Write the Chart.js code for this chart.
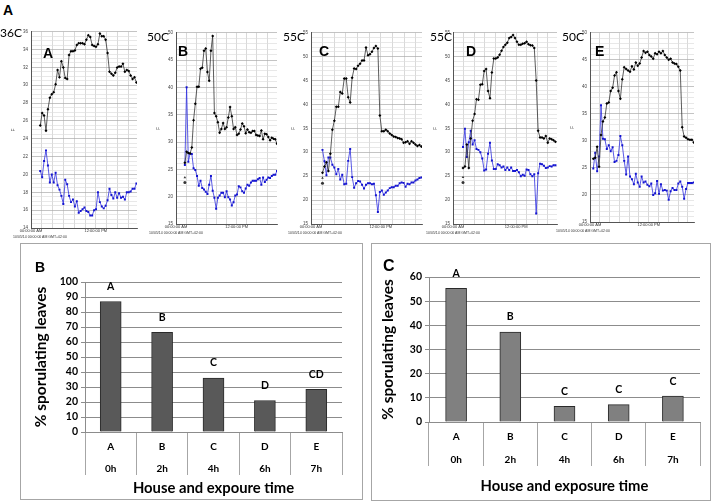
<!DOCTYPE html>
<html><head><meta charset="utf-8">
<script src="https://cdn.jsdelivr.net/npm/chart.js@4"></script>
<style>
body{margin:0;width:714px;height:503px;background:#fff;position:relative;overflow:hidden;font-family:Lato,"Liberation Sans",sans-serif}
.t{position:absolute;white-space:nowrap;line-height:1;color:#000}
canvas{position:absolute}
.box{position:absolute;border:1px solid #a6a6a6;box-sizing:border-box}
</style></head><body>
<div class="t" style="left:3px;top:2px;font:bold 14px 'Liberation Sans',Arial">A</div>
<div class="box" style="left:20px;top:243px;width:343px;height:257px"></div>
<div class="box" style="left:371px;top:243px;width:340px;height:258px"></div>
<script>
// ---------- top panels: temperature logs (index = sample number) ----------
const aBlack=[25.5,26.9,26.6,24.9,27.3,28.6,29.0,29.2,30.1,31.7,30.9,32.7,32.0,30.8,30.7,33.4,33.8,33.8,33.9,34.5,34.7,34.7,34.7,34.6,35.1,35.6,35.4,34.5,34.4,34.3,34.6,35.8,35.5,35.5,35.1,33.6,31.5,31.3,31.1,31.4,32.0,32.1,32.1,32.4,31.5,31.7,31.6,31.1,30.7,30.9,30.3];
const aBlue=[20.4,19.7,21.5,22.7,21.0,19.1,20.0,19.1,20.2,18.8,18.3,17.6,16.7,19.4,18.9,17.6,16.9,17.2,16.4,17.0,15.7,15.9,16.1,16.3,15.9,15.8,15.4,15.4,16.0,16.1,18.0,16.9,16.4,16.2,16.5,17.1,18.4,17.7,17.3,18.0,17.4,17.9,17.4,17.5,17.2,18.0,18.0,18.1,18.4,18.4,19.0];
const bBlack=[26.2,28.2,28.0,27.9,29.0,34.0,37.0,40.1,40.1,43.4,43.6,46.7,47.1,42.8,41.2,46.7,49.4,35.3,34.7,33.6,31.7,32.4,33.5,32.4,32.7,34.5,36.4,34.7,32.4,32.7,31.3,31.5,32.3,33.4,32.9,31.6,32.3,31.8,31.7,32.0,32.0,31.3,31.2,31.1,32.1,30.5,31.5,31.4,30.9,30.3,30.8,30.6,30.5,29.7];
const bBlue=[25.8,40.0,26.4,27.9,27.8,25.2,24.9,23.8,22.0,22.9,21.6,21.3,20.9,20.5,22.2,23.8,21.1,19.8,17.8,19.8,20.2,20.7,20.7,19.9,21.0,19.9,19.5,18.4,19.0,20.2,20.4,21.9,21.7,21.0,20.7,21.5,22.2,22.0,22.6,22.9,22.9,22.9,23.2,23.4,22.2,23.5,22.7,23.1,23.5,23.4,23.8,24.0,24.0,24.7];
const bMarks=[23.5,22.6];
const cBlack=[25.7,27.0,27.9,26.1,29.7,34.7,36.6,39.5,39.5,42.6,42.3,45.4,45.4,41.5,40.4,45.6,47.5,47.4,48.1,48.5,49.2,49.2,51.9,50.3,50.5,51.0,51.8,52.2,51.7,37.7,34.4,34.4,34.7,34.4,33.9,33.6,33.3,33.2,33.0,32.9,32.7,32.0,32.1,32.3,31.8,32.3,32.0,31.6,31.3,31.5,31.2,30.5];
const cBlue=[30.5,28.1,25.2,28.9,28.9,27.4,26.8,25.4,26.5,24.3,25.3,23.3,23.4,28.2,30.7,24.8,22.6,23.5,24.0,23.9,23.2,22.4,23.2,23.5,23.5,23.3,23.4,21.0,17.5,21.7,22.0,21.1,21.6,22.0,22.5,22.7,22.7,23.0,23.0,23.5,23.7,23.6,22.8,23.4,23.3,23.7,23.7,24.1,24.3,24.6,24.7];
const cMarks=[24.6,23.5];
const dBlack=[26.7,27.0,31.6,26.7,32.9,36.6,38.0,41.1,41.0,44.1,44.2,47.0,47.4,42.8,41.3,46.7,49.6,49.6,49.8,50.4,51.2,52.0,52.5,52.9,53.9,54.1,54.5,53.9,53.1,52.5,52.5,52.7,52.8,53.1,52.6,52.4,52.3,51.8,45.0,34.5,33.1,33.1,32.9,33.4,32.0,32.9,32.7,32.5,32.2];
const dBlue=[31.1,34.9,29.0,32.1,34.5,31.6,32.5,30.7,30.5,30.0,28.7,26.2,26.4,29.7,32.0,28.3,26.5,26.5,27.5,27.3,26.8,27.0,26.3,26.8,26.3,26.8,26.1,26.1,26.3,25.8,25.0,25.3,25.1,26.4,26.3,25.4,25.0,25.4,17.2,25.6,27.6,27.5,27.2,26.7,26.8,27.1,27.0,27.3,27.3];
const dMarks=[24.8,23.7];
const eBlack=[26.7,26.9,28.9,25.2,31.1,33.6,34.3,36.9,37.1,39.2,39.8,42.1,42.7,39.2,37.8,41.4,43.6,43.3,43.0,42.8,43.8,43.2,44.5,43.9,44.3,45.4,46.6,46.3,46.5,45.9,45.6,45.2,46.2,46.0,46.5,46.2,46.6,45.9,45.4,45.0,45.2,44.5,44.3,44.2,43.7,43.0,32.5,30.8,30.6,30.3,30.2,30.2,29.7];
const eBlue=[24.9,27.8,24.4,27.1,36.6,30.4,30.3,28.5,29.2,28.1,28.8,26.1,26.3,27.4,30.9,29.2,26.3,23.8,27.1,23.4,22.9,22.0,23.9,22.3,21.5,23.4,22.3,22.5,21.9,21.6,22.1,20.0,20.3,22.6,20.2,22.0,20.8,20.9,20.8,19.1,20.7,21.3,20.9,20.9,22.1,22.5,21.5,19.3,21.1,22.2,22.2,22.2,22.3];
const aYTicks=[14,16,18,20,22,24,26,28,30,32,34,36];
const bYTicks=[15,20,25,30,35,40,45,50];
const cYTicks=[15,20,25,30,35,40,45,50,55];
const dYTicks=[15,20,25,30,35,40,45,50,55];
const eYTicks=[15,20,25,30,35,40,45,50];
const timeLabels=['00:00:00 AM','12:00:00 PM'];
const dateLabel='10/05/14 00:00:00 AM GMT+02:00';
const panelTitles=['36C','50C','55C','55C','50C'];
const panelLetters=['A','B','C','D','E'];

// ---------- bottom panels ----------
const houses=['A','B','C','D','E'];
const times=['0h','2h','4h','6h','7h'];
const bValues=[87,66.5,36,21,28.5];
const bLetters=['A','B','C','D','CD'];
const cValues=[55.3,37.2,6.5,7.2,10.7];
const cLetters=['A','B','C','C','C'];

function addText(txt,left,top,css){const d=document.createElement('div');d.className='t';d.textContent=txt;d.style.left=left+'px';d.style.top=top+'px';d.style.cssText+=css;document.body.appendChild(d);return d;}
function makeCanvas(left,top,w,h){const c=document.createElement('canvas');c.width=w;c.height=h;c.style.left=left+'px';c.style.top=top+'px';c.style.width=w+'px';c.style.height=h+'px';document.body.appendChild(c);return c;}

const panels=[
 {black:aBlack,blue:aBlue,marks:null,area:[31,29,138,228],yr:[14,36],major:aYTicks,minor:0.5,xr:[-4.8,50.3],noon:28.9,title:[0,25],letter:[43,45],date:40},
 {black:bBlack,blue:bBlue,marks:bMarks,area:[176,30,278,224],yr:[15,50],major:bYTicks,minor:1,xr:[-5.1,53.0],noon:29.8,title:[147,29],letter:[178,43],date:176},
 {black:cBlack,blue:cBlue,marks:cMarks,area:[311,30,423,224],yr:[15,55],major:cYTicks,minor:1,xr:[-5.8,50.3],noon:29.5,title:[283,29],letter:[319,43],date:315},
 {black:dBlack,blue:dBlue,marks:dMarks,area:[453,30,558,224],yr:[15,55],major:dYTicks,minor:1,xr:[-5.2,48.8],noon:27.6,title:[430,29],letter:[466,43],date:453},
 {black:eBlack,blue:eBlue,marks:null,area:[590,30,695,222],yr:[15,50],major:eYTicks,minor:1,xr:[-1.7,52.1],noon:28.7,title:[562,29],letter:[595,43],date:583}
];

const YW=20,XH=9,PT=3,PR=3;
panels.forEach((p,k)=>{
  const [l,t,r,b]=p.area;
  const cv=makeCanvas(l-YW,t-PT,YW+(r-l)+PR,PT+(b-t)+XH);
  const gstep=(p.noon-p.xr[0])/6;
  const ds=[
    {data:p.black.map((v,i)=>({x:i,y:v})),borderColor:'#333',borderWidth:0.8,pointStyle:'rectRot',pointRadius:1.5,pointBackgroundColor:'#000',pointBorderWidth:0,tension:0},
    {data:p.blue.map((v,i)=>({x:i,y:v})),borderColor:'#3030e0',borderWidth:0.8,pointStyle:'rect',pointRadius:1.4,pointBackgroundColor:'#1414d0',pointBorderWidth:0,tension:0}
  ];
  if(p.marks){
    ds.push({data:[{x:0,y:p.marks[0]}],showLine:false,pointStyle:'triangle',pointRadius:1.5,pointBackgroundColor:'#333',pointBorderWidth:0});
    ds.push({data:[{x:0,y:p.marks[1]}],showLine:false,pointStyle:'circle',pointRadius:1.5,pointBackgroundColor:'#333',pointBorderWidth:0});
  }
  new Chart(cv,{type:'line',data:{datasets:ds},options:{
    responsive:false,animation:false,
    layout:{padding:{top:PT,right:PR,left:0,bottom:0}},
    plugins:{legend:{display:false},tooltip:{enabled:false}},
    scales:{
      x:{type:'linear',min:p.xr[0],max:p.xr[1],
        afterBuildTicks:s=>{const tk=[];for(let v=p.xr[0];v<=p.xr[1]+1e-6;v+=gstep)tk.push({value:v});s.ticks=tk;},
        ticks:{autoSkip:false,maxRotation:0,padding:1,font:{size:4,lineHeight:1},color:'#333',
          callback:(v,i)=> i===0?timeLabels[0]:(Math.abs(v-p.noon)<0.01?timeLabels[1]:'')},
        grid:{color:'#c9c9c9',lineWidth:0.7,drawTicks:false},border:{color:'#555'},
        afterFit:s=>{s.height=XH;}},
      y:{min:p.yr[0],max:p.yr[1],
        afterBuildTicks:s=>{const tk=[];for(let v=p.yr[0];v<=p.yr[1]+1e-6;v+=p.minor)tk.push({value:Math.round(v*100)/100});s.ticks=tk;},
        ticks:{autoSkip:false,padding:3,font:{size:4.5},color:'#444',callback:v=>p.major.includes(v)?String(v):''},
        grid:{color:c=>p.major.includes(c.tick.value)?'#aaaaaa':'#dedede',lineWidth:0.7,drawTicks:false},border:{color:'#555'},
        title:{display:true,text:'F',font:{size:5},color:'#444',padding:0},
        afterFit:s=>{s.width=YW;}}
    }}});
  addText(panelTitles[k],p.title[0],p.title[1],"font:12px Lato,'Liberation Sans'");
  addText(panelLetters[k],p.letter[0],p.letter[1],"font:bold 14px 'Liberation Sans',Arial");
  addText(dateLabel,p.date,b+7,"font:3.5px 'Liberation Sans';color:#333;transform:translateX(-50%)");
});

// ---------- bar charts ----------
const letterPlugin={id:'letters',afterDatasetsDraw(chart,args,opts){
  const ctx=chart.ctx;const meta=chart.getDatasetMeta(0);
  ctx.save();ctx.font="bold 10.5px Lato";ctx.fillStyle='#000';ctx.textAlign='center';ctx.textBaseline='middle';
  meta.data.forEach((bar,i)=>ctx.fillText(opts.list[i],bar.x,bar.y-15));ctx.restore();}};

function barChart(cfg){
  const cv=makeCanvas(cfg.left,cfg.top,cfg.w,cfg.h);
  const bold=s=>({family:'Lato',weight:'bold',size:s});
  new Chart(cv,{type:'bar',plugins:[letterPlugin],
    data:{labels:houses.map((h,i)=>[h,times[i]]),datasets:[{data:cfg.values,backgroundColor:cfg.color,borderColor:'#2a2a2a',borderWidth:1,barThickness:21}]},
    options:{responsive:false,animation:false,
      layout:{padding:{top:cfg.padTop,right:cfg.padRight,left:0,bottom:0}},
      plugins:{legend:{display:false},tooltip:{enabled:false},letters:{list:cfg.letters}},
      scales:{
        x:{grid:{offset:true,drawOnChartArea:false,drawTicks:true,tickLength:cfg.tickLen,color:'#a6a6a6'},border:{color:'#8c8c8c'},
          ticks:{padding:cfg.tickPad,font:{family:'Lato',weight:'bold',size:10,lineHeight:cfg.lh},color:'#000'},
          title:{display:true,text:cfg.xTitle,font:bold(14.8),color:'#000',padding:cfg.xtPad},
          afterFit:s=>{s.height=cfg.xh;}},
        y:{min:0,max:cfg.max,ticks:{stepSize:10,autoSkip:false,font:bold(10.5),color:'#000',padding:3},
          grid:{color:'#8c8c8c',tickLength:4},border:{color:'#8c8c8c'},
          title:{display:true,text:'% sporulating leaves',font:bold(15.5),color:'#000',padding:cfg.ytPad},
          afterFit:s=>{s.width=cfg.yw;}}
      }}});
}
barChart({left:21,top:244,w:341,h:255,padTop:38,padRight:20,yw:64,xh:67,tickLen:43,tickPad:-39,lh:2.2,values:bValues,letters:bLetters,max:100,color:'#595959',xTitle:'House and expoure time',xtPad:2,ytPad:11});
barChart({left:372,top:244,w:338,h:256,padTop:33,padRight:10,yw:57,xh:78,tickLen:44,tickPad:-40.5,lh:2.3,values:cValues,letters:cLetters,max:60,color:'#808080',xTitle:'House and exposure time',xtPad:5,ytPad:6.5});
addText('B',35,259,"font:bold 14px 'Liberation Sans',Arial");
addText('C',383,257,"font:bold 16px 'Liberation Sans',Arial");
</script>
</body></html>
